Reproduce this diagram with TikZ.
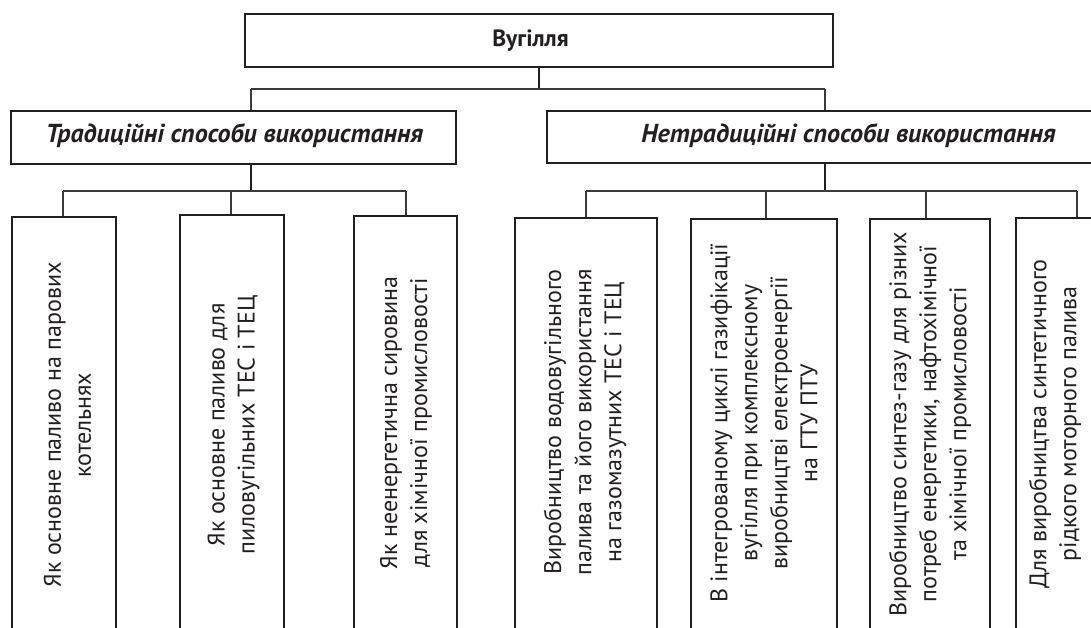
\documentclass[tikz,border=0pt]{standalone}
\usepackage{fontspec}
\setmainfont{PT Sans}
\definecolor{ink}{HTML}{231F20}
\definecolor{wire}{HTML}{3A3A3A}
\tikzset{
  box/.style={draw=ink, line width=2.4pt, fill=white, inner sep=0pt},
  stem/.style={draw=ink, line width=2.2pt},
  wireline/.style={draw=wire, line width=1.1pt},
  lbl/.style={text=ink, font=\fontsize{24}{30}\selectfont, align=center, inner sep=0pt},
  vlbl/.style={lbl, rotate=90},
  head/.style={text=ink, font=\fontsize{26}{30}\selectfont\bfseries\itshape, inner sep=0pt, anchor=base},
}
\begin{document}
\begin{tikzpicture}[x=1pt,y=-1pt]
\useasboundingbox (0,0) rectangle (1091,628);
\clip (0,0) rectangle (1091,628);
% boxes
\node[box, minimum width=588pt, minimum height=53pt] (top) at (539,40.5) {};
\node[box, minimum width=445pt, minimum height=53pt] (trad) at (233.5,137.5) {};
\node[box, minimum width=603pt, minimum height=52pt] (netrad) at (848.5,137) {};
\node[box, minimum width=104pt, minimum height=440pt] (c1) at (64,437) {};
\node[box, minimum width=104pt, minimum height=440pt] (c2) at (232,435) {};
\node[box, minimum width=103pt, minimum height=440pt] (c3) at (405.5,436) {};
\node[box, minimum width=142pt, minimum height=440pt] (c4) at (586,438) {};
\node[box, minimum width=146pt, minimum height=440pt] (c5) at (764,439) {};
\node[box, minimum width=120pt, minimum height=440pt] (c6) at (930,439) {};
\node[box, minimum width=124pt, minimum height=440pt] (c7) at (1078,438) {};
% texts
\node[head, font=\fontsize{23.5}{30}\selectfont\bfseries] (ttop) at (530.5,47) {Вугілля};
\node[head] (ttrad) at (234.5,143) {Традиційні способи використання};
\node[head] (tnetrad) at (848.5,142.8) {Нетрадиційні способи використання};
\node[vlbl] (t1) at (67.5,425) {Як основне паливо на парових\\котельнях};
\node[vlbl] (t2) at (233.5,425) {Як основне паливо для\\пиловугільних ТЕС і ТЕЦ};
\node[vlbl] (t3) at (406,423) {Як неенергетична сировина\\для хімічної промисловості};
\node[vlbl] (t4) at (585,422) {Виробництво водовугільного\\палива та його використання\\на газомазутних ТЕС і ТЕЦ};
\node[vlbl] (t5) at (764,423) {В інтегрованому циклі газифікації\\вугілля при комплексному\\виробництві електроенергії\\на ГТУ ПТУ};
\node[vlbl] (t6) at (930,424) {Виробництво синтез-газу для різних\\потреб енергетики, нафтохімічної\\та хімічної промисловості};
\node[vlbl] (t7) at (1055,424) {Для виробництва синтетичного\\рідкого моторного палива};
% junctions
\coordinate (j0) at (539,89);
\coordinate (jl) at (251,89);
\coordinate (jr) at (825,89);
\coordinate (k0) at (251,191);
\coordinate (m0) at (825,191);
\coordinate (k1) at (63,191);
\coordinate (k2) at (231,191);
\coordinate (k3) at (406,191);
\coordinate (m4) at (586,191);
\coordinate (m5) at (766,191);
\coordinate (m6) at (926,191);
\coordinate (m7) at (1077,191);
% connectors
\draw[stem] (top.south -| j0) -- (j0);
\draw[wireline] (jl) -- (jr);
\draw[wireline] (jl) -- (trad.north -| jl);
\draw[wireline] (jr) -- (netrad.north -| jr);
\draw[stem] (trad.south -| k0) -- (k0);
\draw[stem] (netrad.south -| m0) -- (m0);
\draw[wireline] (k1) -- (k3);
\draw[wireline] (k1) -- (c1.north -| k1);
\draw[wireline] (k2) -- (c2.north -| k2);
\draw[wireline] (k3) -- (c3.north -| k3);
\draw[wireline] (m4) -- (m7);
\draw[wireline] (m4) -- (c4.north -| m4);
\draw[wireline] (m5) -- (c5.north -| m5);
\draw[wireline] (m6) -- (c6.north -| m6);
\draw[wireline] (m7) -- (c7.north -| m7);
\end{tikzpicture}
\end{document}
